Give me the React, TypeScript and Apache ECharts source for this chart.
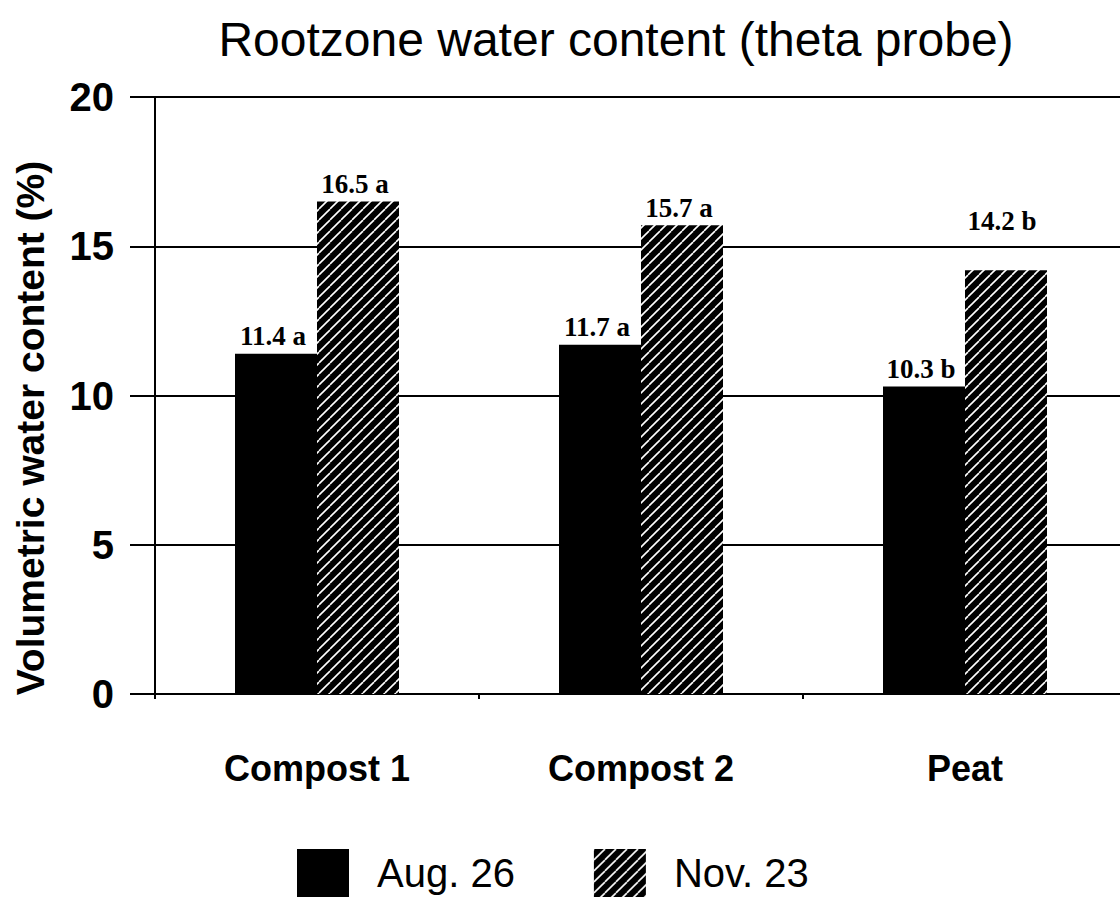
import React, { useEffect, useRef } from 'react';
import * as echarts from 'echarts';

const categories = ['Compost 1', 'Compost 2', 'Peat'];
const seriesNames = ['Aug. 26', 'Nov. 23'];
const aug26 = [11.4, 11.7, 10.3];
const nov23 = [16.5, 15.7, 14.2];
const aug26Letters = ['a', 'a', 'b'];
const nov23Letters = ['a', 'a', 'b'];
const yMin = 0;
const yMax = 20;
const yStep = 5;
const titleText = 'Rootzone water content (theta probe)';
const yAxisTitle = 'Volumetric water content (%)';

const SANS = "'Liberation Sans', Arial, sans-serif";
const SERIF = "'Liberation Serif', 'Times New Roman', serif";

function makeHatch(): HTMLCanvasElement {
  const s = 11;
  const c = document.createElement('canvas');
  c.width = s;
  c.height = s;
  const ctx = c.getContext('2d')!;
  ctx.fillStyle = '#000';
  ctx.fillRect(0, 0, s, s);
  ctx.strokeStyle = '#fff';
  ctx.lineWidth = 1.6;
  for (const k of [-s, 0, s]) {
    ctx.beginPath();
    ctx.moveTo(k, s);
    ctx.lineTo(k + s, 0);
    ctx.stroke();
  }
  return c;
}

export default function App() {
  const ref = useRef<HTMLDivElement>(null);

  useEffect(() => {
    document.body.style.margin = '0';
    document.body.style.overflow = 'hidden';
    if (!ref.current) return;
    const chart = echarts.init(ref.current, undefined, { renderer: 'svg' });
    const hatch = { image: makeHatch(), repeat: 'repeat' };

    const labelBase = {
      show: true,
      position: 'top',
      distance: 4,
      offset: [-3, 0],
      fontFamily: SERIF,
      fontWeight: 'bold',
      fontSize: 27,
      color: '#000',
    };

    const option: any = {
      animation: false,
      backgroundColor: '#fff',
      title: {
        text: titleText,
        left: 611,
        top: 10,
        textAlign: 'center',
        textStyle: { fontFamily: SANS, fontSize: 48, fontWeight: 'normal', color: '#000' },
      },
      graphic: [
        {
          type: 'text',
          x: 30,
          y: 428,
          rotation: Math.PI / 2,
          style: {
            text: yAxisTitle,
            fontFamily: SANS,
            fontWeight: 'bold',
            fontSize: 39,
            fill: '#000',
            textAlign: 'center',
            textVerticalAlign: 'middle',
          },
        },
      ],
      legend: {
        data: seriesNames,
        left: 292,
        top: 844,
        icon: 'rect',
        itemWidth: 52,
        itemHeight: 48,
        itemGap: 79,
        textStyle: { fontFamily: SANS, fontSize: 40, color: '#000', padding: [0, 0, 0, 23] },
      },
      grid: { left: 155, top: 97, right: 0, height: 597 },
      xAxis: [
        {
          type: 'category',
          data: categories,
          axisLine: { lineStyle: { color: '#000', width: 2 } },
          axisTick: { alignWithLabel: true, length: 28, lineStyle: { color: '#000', width: 2 } },
          axisLabel: { margin: 56, fontFamily: SANS, fontWeight: 'bold', fontSize: 36, color: '#000' },
        },
        {
          type: 'category',
          data: categories,
          position: 'bottom',
          gridIndex: 0,
          axisLine: { show: false },
          axisTick: { show: true, length: 5, lineStyle: { color: '#000', width: 2 } },
          axisLabel: { show: false },
          splitLine: { show: false },
        },
      ],
      yAxis: {
        type: 'value',
        min: yMin,
        max: yMax,
        interval: yStep,
        axisLine: { show: true, lineStyle: { color: '#000', width: 2 } },
        axisTick: { show: true, length: 25, lineStyle: { color: '#000', width: 2 } },
        axisLabel: { margin: 41, fontFamily: SANS, fontWeight: 'bold', fontSize: 40, color: '#000' },
        splitLine: { show: true, lineStyle: { color: '#000', width: 2 } },
      },
      series: [
        {
          name: seriesNames[0],
          type: 'bar',
          xAxisIndex: 0,
          data: aug26,
          barWidth: 82,
          barGap: '0%',
          itemStyle: { color: '#000' },
          label: {
            ...labelBase,
            formatter: (p: any) => `${Number(p.value).toFixed(1)} ${aug26Letters[p.dataIndex]}`,
          },
        },
        {
          name: seriesNames[1],
          type: 'bar',
          xAxisIndex: 0,
          data: nov23.map((v, i) => (i === 2 ? { value: v, label: { offset: [-4, -32] } } : v)),
          barWidth: 82,
          barGap: '0%',
          itemStyle: { color: hatch },
          label: {
            ...labelBase,
            formatter: (p: any) => `${Number(p.value).toFixed(1)} ${nov23Letters[p.dataIndex]}`,
          },
        },
      ],
    };

    chart.setOption(option);
    return () => chart.dispose();
  }, []);

  return (
    <div style={{ width: 1120, height: 901, overflow: 'hidden' }}>
      <div ref={ref} style={{ width: 1127, height: 901 }} />
    </div>
  );
}
